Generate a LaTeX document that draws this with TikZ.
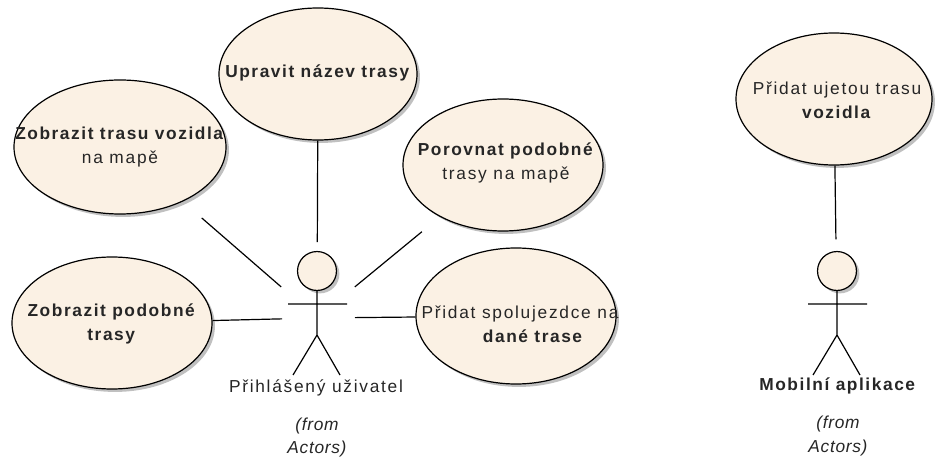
\documentclass[tikz,border=0pt]{standalone}
\usepackage{fontspec}
\setmainfont{Liberation Sans}[LetterSpace=10, BoldFeatures={LetterSpace=9}, ItalicFeatures={LetterSpace=4}]
\usetikzlibrary{shapes.geometric,shadows}
\definecolor{ucfill}{RGB}{251,241,228}
\definecolor{inkc}{RGB}{38,38,38}

\tikzset{
  shade/.style={drop shadow={shadow xshift=2.2pt, shadow yshift=-2.2pt, fill=black!45, opacity=0.55}},
  uc/.style={ellipse, draw=black, line width=0.9pt, fill=ucfill, shade, inner sep=0pt},
  uctext/.style={align=center, text=inkc, inner sep=0pt},
  actorname/.style={text=inkc, inner sep=0pt, anchor=base},
  link/.style={draw=black, line width=0.9pt},
  stickman/.pic={
    \draw[fill=ucfill, shade, line width=0.9pt] (0,-47) circle[radius=14.6pt];
    \draw[line width=0.9pt] (0,-27.5) -- (0,17) (-29,-14) -- (30,-14)
      (-24,57) -- (0,17) -- (23,57);
  }
}

\begin{document}
\begin{tikzpicture}[x=0.75pt, y=-0.75pt, font=\fontsize{13pt}{18pt}\selectfont]
\useasboundingbox (0,0) rectangle (935,463);

% use cases
\node[uc, minimum width=148.5pt, minimum height=99pt]  (u1) at (318,74)  {};
\node[uc, minimum width=159pt,   minimum height=100.5pt] (u2) at (120,147) {};
\node[uc, minimum width=150pt,   minimum height=99pt]  (u3) at (503,165) {};
\node[uc, minimum width=150pt,   minimum height=99pt]  (u4) at (112,323) {};
\node[uc, minimum width=150pt,   minimum height=102pt] (u5) at (516,316) {};
\node[uc, minimum width=147pt,   minimum height=99pt]  (u6) at (834,99)  {};

\node[uctext] (t1) at (318,73)  {\textbf{Upravit název trasy}};
\node[uctext] (t2) at (120,147) {\textbf{Zobrazit trasu vozidla}\\na mapě};
\node[uctext] (t3) at (506,163) {\textbf{Porovnat podobné}\\trasy na mapě};
\node[uctext] (t4) at (112,324) {\textbf{Zobrazit podobné}\\\textbf{trasy}};
\node[uctext] (t5) at (520,324) {Přidat spolujezdce na\\\hspace*{20pt}\textbf{dané trase}};
\node[uctext] (t6) at (837,100) {Přidat ujetou trasu\\\textbf{vozidla}};

% actors
\coordinate (a1) at (317,318);
\pic at (a1) {stickman};
\node[actorname] (n1) at (316,392) {Přihlášený uživatel};
\node[actorname] (f1a) at (317,430) {\itshape (from};
\node[actorname] (f1b) at (317,453) {\itshape Actors)};

\coordinate (a2) at (837,318);
\pic at (a2) {stickman};
\node[actorname] (n2) at (838,390) {\textbf{Mobilní aplikace}};
\node[actorname] (f2a) at (838,428) {\itshape (from};
\node[actorname] (f2b) at (838,452) {\itshape Actors)};

% associations
\draw[link, shorten >=57pt] (u1) -- (a1);
\draw[link, shorten <=18.75pt, shorten >=35.6pt] (u2) -- (a1);
\draw[link, shorten <=17.5pt, shorten >=36.75pt] (u3) -- (a1);
\draw[link, shorten >=26.25pt] (u4) -- (a1);
\draw[link, shorten >=28.5pt] (u5) -- (a1);
\draw[link, shorten >=59pt] (u6) -- (a2);
\end{tikzpicture}
\end{document}
